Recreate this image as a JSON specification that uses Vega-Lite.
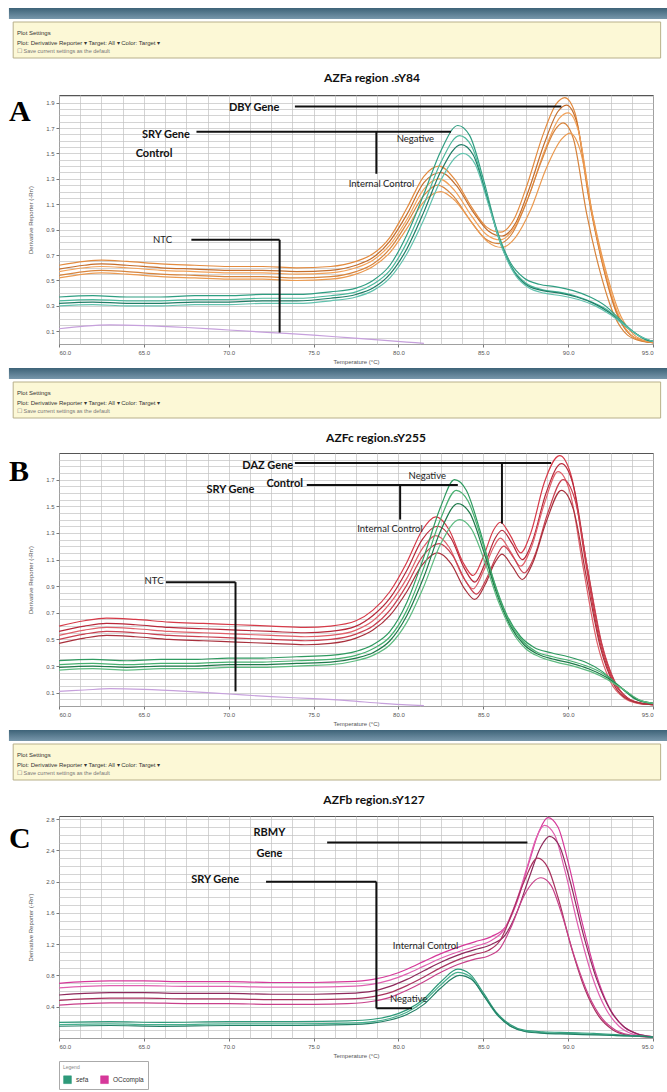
{
  "$schema": "https://vega.github.io/schema/vega-lite/v6.json",
  "background": "white",
  "padding": {"left": 8, "top": 8, "right": 0, "bottom": 0},
  "config": {
    "view": {"stroke": "#555", "strokeWidth": 1},
    "title": {"font": "Lato", "fontSize": 12, "fontWeight": "bold", "color": "#111", "offset": 8},
    "axis": {"labelFont": "Liberation Sans", "titleFont": "Liberation Sans", "labelFontSize": 6, "titleFontSize": 6, "labelColor": "#555", "titleColor": "#555", "titleFontWeight": "normal", "tickColor": "#777", "tickSize": 3, "labelPadding": 2, "domain": false, "grid": true, "gridColor": "#c2c2c2", "gridWidth": 0.7, "labelOverlap": false},
    "line": {"strokeWidth": 1.2, "interpolate": "monotone"}
  },
  "datasets": {
    "curvesA": [
      {"s":"o1","t":60,"v":0.62},{"s":"o1","t":61.5,"v":0.65},{"s":"o1","t":62.5,"v":0.66},{"s":"o1","t":64,"v":0.65},{"s":"o1","t":66,"v":0.63},{"s":"o1","t":68,"v":0.62},{"s":"o1","t":70,"v":0.61},{"s":"o1","t":72,"v":0.61},{"s":"o1","t":74,"v":0.60},{"s":"o1","t":76,"v":0.61},{"s":"o1","t":77.5,"v":0.65},{"s":"o1","t":78.5,"v":0.71},{"s":"o1","t":79.5,"v":0.84},{"s":"o1","t":80.5,"v":1.07},{"s":"o1","t":81.5,"v":1.32},{"s":"o1","t":82.4,"v":1.40},{"s":"o1","t":83.3,"v":1.30},{"s":"o1","t":84.3,"v":1.08},{"s":"o1","t":85.2,"v":0.92},{"s":"o1","t":86,"v":0.88},{"s":"o1","t":86.8,"v":0.98},{"s":"o1","t":87.6,"v":1.26},{"s":"o1","t":88.5,"v":1.64},{"s":"o1","t":89.3,"v":1.89},{"s":"o1","t":89.8,"v":1.94},{"s":"o1","t":90.4,"v":1.82},{"s":"o1","t":91.2,"v":1.16},{"s":"o1","t":92,"v":0.64},{"s":"o1","t":92.8,"v":0.26},{"s":"o1","t":93.6,"v":0.08},{"s":"o1","t":94.5,"v":0.02},{"s":"o1","t":95,"v":0.01},
      {"s":"o2","t":60,"v":0.59},{"s":"o2","t":61.5,"v":0.62},{"s":"o2","t":62.5,"v":0.63},{"s":"o2","t":64,"v":0.62},{"s":"o2","t":66,"v":0.60},{"s":"o2","t":68,"v":0.59},{"s":"o2","t":70,"v":0.58},{"s":"o2","t":72,"v":0.58},{"s":"o2","t":74,"v":0.57},{"s":"o2","t":76,"v":0.58},{"s":"o2","t":77.5,"v":0.62},{"s":"o2","t":78.5,"v":0.68},{"s":"o2","t":79.5,"v":0.81},{"s":"o2","t":80.5,"v":1.02},{"s":"o2","t":81.5,"v":1.27},{"s":"o2","t":82.5,"v":1.35},{"s":"o2","t":83.4,"v":1.25},{"s":"o2","t":84.4,"v":1.04},{"s":"o2","t":85.3,"v":0.89},{"s":"o2","t":86.1,"v":0.85},{"s":"o2","t":86.9,"v":0.95},{"s":"o2","t":87.7,"v":1.22},{"s":"o2","t":88.6,"v":1.58},{"s":"o2","t":89.4,"v":1.83},{"s":"o2","t":89.9,"v":1.88},{"s":"o2","t":90.5,"v":1.75},{"s":"o2","t":91.3,"v":1.10},{"s":"o2","t":92.1,"v":0.60},{"s":"o2","t":92.9,"v":0.24},{"s":"o2","t":93.7,"v":0.07},{"s":"o2","t":94.6,"v":0.02},{"s":"o2","t":95,"v":0.01},
      {"s":"o3","t":60,"v":0.57},{"s":"o3","t":61.5,"v":0.60},{"s":"o3","t":62.5,"v":0.61},{"s":"o3","t":64,"v":0.60},{"s":"o3","t":66,"v":0.58},{"s":"o3","t":68,"v":0.57},{"s":"o3","t":70,"v":0.56},{"s":"o3","t":72,"v":0.56},{"s":"o3","t":74,"v":0.55},{"s":"o3","t":76,"v":0.56},{"s":"o3","t":77.5,"v":0.60},{"s":"o3","t":78.5,"v":0.66},{"s":"o3","t":79.5,"v":0.78},{"s":"o3","t":80.5,"v":0.98},{"s":"o3","t":81.5,"v":1.22},{"s":"o3","t":82.4,"v":1.30},{"s":"o3","t":83.3,"v":1.21},{"s":"o3","t":84.3,"v":1.01},{"s":"o3","t":85.2,"v":0.86},{"s":"o3","t":86,"v":0.82},{"s":"o3","t":86.8,"v":0.91},{"s":"o3","t":87.7,"v":1.17},{"s":"o3","t":88.6,"v":1.52},{"s":"o3","t":89.5,"v":1.78},{"s":"o3","t":90,"v":1.82},{"s":"o3","t":90.6,"v":1.68},{"s":"o3","t":91.4,"v":1.04},{"s":"o3","t":92.2,"v":0.56},{"s":"o3","t":93,"v":0.22},{"s":"o3","t":93.8,"v":0.06},{"s":"o3","t":94.6,"v":0.02},{"s":"o3","t":95,"v":0.01},
      {"s":"o4","t":60,"v":0.54},{"s":"o4","t":61.5,"v":0.57},{"s":"o4","t":62.5,"v":0.58},{"s":"o4","t":64,"v":0.57},{"s":"o4","t":66,"v":0.55},{"s":"o4","t":68,"v":0.54},{"s":"o4","t":70,"v":0.53},{"s":"o4","t":72,"v":0.53},{"s":"o4","t":74,"v":0.52},{"s":"o4","t":76,"v":0.53},{"s":"o4","t":77.5,"v":0.57},{"s":"o4","t":78.5,"v":0.63},{"s":"o4","t":79.5,"v":0.75},{"s":"o4","t":80.5,"v":0.95},{"s":"o4","t":81.5,"v":1.17},{"s":"o4","t":82.3,"v":1.25},{"s":"o4","t":83.2,"v":1.17},{"s":"o4","t":84.2,"v":0.98},{"s":"o4","t":85.1,"v":0.83},{"s":"o4","t":85.9,"v":0.79},{"s":"o4","t":86.7,"v":0.87},{"s":"o4","t":87.5,"v":1.10},{"s":"o4","t":88.4,"v":1.43},{"s":"o4","t":89.2,"v":1.68},{"s":"o4","t":89.7,"v":1.74},{"s":"o4","t":90.3,"v":1.62},{"s":"o4","t":91.1,"v":1.02},{"s":"o4","t":91.9,"v":0.56},{"s":"o4","t":92.7,"v":0.23},{"s":"o4","t":93.5,"v":0.07},{"s":"o4","t":94.4,"v":0.02},{"s":"o4","t":95,"v":0.01},
      {"s":"o5","t":60,"v":0.52},{"s":"o5","t":61.5,"v":0.55},{"s":"o5","t":62.5,"v":0.56},{"s":"o5","t":64,"v":0.55},{"s":"o5","t":66,"v":0.53},{"s":"o5","t":68,"v":0.52},{"s":"o5","t":70,"v":0.51},{"s":"o5","t":72,"v":0.51},{"s":"o5","t":74,"v":0.50},{"s":"o5","t":76,"v":0.51},{"s":"o5","t":77.5,"v":0.55},{"s":"o5","t":78.5,"v":0.61},{"s":"o5","t":79.5,"v":0.72},{"s":"o5","t":80.5,"v":0.91},{"s":"o5","t":81.5,"v":1.12},{"s":"o5","t":82.5,"v":1.20},{"s":"o5","t":83.4,"v":1.12},{"s":"o5","t":84.4,"v":0.94},{"s":"o5","t":85.3,"v":0.80},{"s":"o5","t":86.1,"v":0.76},{"s":"o5","t":86.9,"v":0.84},{"s":"o5","t":87.8,"v":1.06},{"s":"o5","t":88.7,"v":1.38},{"s":"o5","t":89.6,"v":1.61},{"s":"o5","t":90.1,"v":1.66},{"s":"o5","t":90.7,"v":1.53},{"s":"o5","t":91.5,"v":0.98},{"s":"o5","t":92.3,"v":0.54},{"s":"o5","t":93.1,"v":0.22},{"s":"o5","t":93.9,"v":0.07},{"s":"o5","t":94.7,"v":0.02},{"s":"o5","t":95,"v":0.01},
      {"s":"g1","t":60,"v":0.37},{"s":"g1","t":62,"v":0.38},{"s":"g1","t":64,"v":0.37},{"s":"g1","t":66,"v":0.37},{"s":"g1","t":68,"v":0.38},{"s":"g1","t":70,"v":0.38},{"s":"g1","t":72,"v":0.39},{"s":"g1","t":74,"v":0.39},{"s":"g1","t":76,"v":0.41},{"s":"g1","t":77.5,"v":0.44},{"s":"g1","t":78.5,"v":0.50},{"s":"g1","t":79.5,"v":0.62},{"s":"g1","t":80.5,"v":0.86},{"s":"g1","t":81.5,"v":1.18},{"s":"g1","t":82.5,"v":1.52},{"s":"g1","t":83.5,"v":1.72},{"s":"g1","t":84.2,"v":1.64},{"s":"g1","t":85,"v":1.30},{"s":"g1","t":85.8,"v":0.90},{"s":"g1","t":86.6,"v":0.64},{"s":"g1","t":87.4,"v":0.52},{"s":"g1","t":88.3,"v":0.47},{"s":"g1","t":89.3,"v":0.45},{"s":"g1","t":90.3,"v":0.42},{"s":"g1","t":91.3,"v":0.37},{"s":"g1","t":92.2,"v":0.30},{"s":"g1","t":93,"v":0.20},{"s":"g1","t":93.8,"v":0.10},{"s":"g1","t":94.5,"v":0.04},{"s":"g1","t":95,"v":0.02},
      {"s":"g2","t":60,"v":0.34},{"s":"g2","t":62,"v":0.35},{"s":"g2","t":64,"v":0.34},{"s":"g2","t":66,"v":0.34},{"s":"g2","t":68,"v":0.35},{"s":"g2","t":70,"v":0.35},{"s":"g2","t":72,"v":0.36},{"s":"g2","t":74,"v":0.36},{"s":"g2","t":76,"v":0.38},{"s":"g2","t":77.5,"v":0.41},{"s":"g2","t":78.5,"v":0.47},{"s":"g2","t":79.5,"v":0.58},{"s":"g2","t":80.5,"v":0.80},{"s":"g2","t":81.5,"v":1.10},{"s":"g2","t":82.5,"v":1.43},{"s":"g2","t":83.6,"v":1.64},{"s":"g2","t":84.3,"v":1.56},{"s":"g2","t":85.1,"v":1.22},{"s":"g2","t":85.9,"v":0.84},{"s":"g2","t":86.7,"v":0.60},{"s":"g2","t":87.5,"v":0.48},{"s":"g2","t":88.4,"v":0.43},{"s":"g2","t":89.4,"v":0.41},{"s":"g2","t":90.4,"v":0.38},{"s":"g2","t":91.4,"v":0.33},{"s":"g2","t":92.3,"v":0.27},{"s":"g2","t":93.1,"v":0.18},{"s":"g2","t":93.9,"v":0.09},{"s":"g2","t":94.6,"v":0.03},{"s":"g2","t":95,"v":0.02},
      {"s":"g3","t":60,"v":0.32},{"s":"g3","t":62,"v":0.33},{"s":"g3","t":64,"v":0.32},{"s":"g3","t":66,"v":0.32},{"s":"g3","t":68,"v":0.33},{"s":"g3","t":70,"v":0.33},{"s":"g3","t":72,"v":0.34},{"s":"g3","t":74,"v":0.34},{"s":"g3","t":76,"v":0.36},{"s":"g3","t":77.5,"v":0.39},{"s":"g3","t":78.5,"v":0.44},{"s":"g3","t":79.5,"v":0.55},{"s":"g3","t":80.5,"v":0.75},{"s":"g3","t":81.5,"v":1.04},{"s":"g3","t":82.5,"v":1.36},{"s":"g3","t":83.7,"v":1.57},{"s":"g3","t":84.4,"v":1.49},{"s":"g3","t":85.2,"v":1.16},{"s":"g3","t":86,"v":0.80},{"s":"g3","t":86.8,"v":0.57},{"s":"g3","t":87.6,"v":0.46},{"s":"g3","t":88.5,"v":0.42},{"s":"g3","t":89.5,"v":0.40},{"s":"g3","t":90.5,"v":0.37},{"s":"g3","t":91.5,"v":0.32},{"s":"g3","t":92.4,"v":0.25},{"s":"g3","t":93.2,"v":0.16},{"s":"g3","t":94,"v":0.08},{"s":"g3","t":94.7,"v":0.03},{"s":"g3","t":95,"v":0.02},
      {"s":"g4","t":60,"v":0.30},{"s":"g4","t":62,"v":0.31},{"s":"g4","t":64,"v":0.30},{"s":"g4","t":66,"v":0.30},{"s":"g4","t":68,"v":0.31},{"s":"g4","t":70,"v":0.31},{"s":"g4","t":72,"v":0.32},{"s":"g4","t":74,"v":0.32},{"s":"g4","t":76,"v":0.34},{"s":"g4","t":77.5,"v":0.37},{"s":"g4","t":78.5,"v":0.42},{"s":"g4","t":79.5,"v":0.52},{"s":"g4","t":80.5,"v":0.71},{"s":"g4","t":81.5,"v":0.98},{"s":"g4","t":82.5,"v":1.29},{"s":"g4","t":83.8,"v":1.50},{"s":"g4","t":84.5,"v":1.42},{"s":"g4","t":85.3,"v":1.10},{"s":"g4","t":86.1,"v":0.76},{"s":"g4","t":86.9,"v":0.54},{"s":"g4","t":87.7,"v":0.44},{"s":"g4","t":88.6,"v":0.40},{"s":"g4","t":89.6,"v":0.38},{"s":"g4","t":90.6,"v":0.35},{"s":"g4","t":91.6,"v":0.30},{"s":"g4","t":92.5,"v":0.23},{"s":"g4","t":93.3,"v":0.15},{"s":"g4","t":94.1,"v":0.07},{"s":"g4","t":94.8,"v":0.03},{"s":"g4","t":95,"v":0.02},
      {"s":"n","t":60,"v":0.12},{"s":"n","t":61.5,"v":0.14},{"s":"n","t":63,"v":0.15},{"s":"n","t":65,"v":0.145},{"s":"n","t":67.5,"v":0.13},{"s":"n","t":70,"v":0.11},{"s":"n","t":72.5,"v":0.09},{"s":"n","t":75,"v":0.07},{"s":"n","t":77,"v":0.05},{"s":"n","t":79,"v":0.03},{"s":"n","t":80.5,"v":0.015},{"s":"n","t":81.5,"v":0.005}
    ],
    "rulesA": [
      {"t":73.9,"v":1.87,"t2":89.6,"v2":1.87},
      {"t":68.1,"v":1.67,"t2":83.1,"v2":1.67},
      {"t":78.7,"v":1.67,"t2":78.7,"v2":1.34},
      {"t":67.8,"v":0.82,"t2":73.0,"v2":0.82},
      {"t":73.0,"v":0.82,"t2":73.0,"v2":0.09}
    ],
    "boldA": [
      {"t":71.5,"v":1.86,"label":"DBY Gene"},
      {"t":66.3,"v":1.645,"label":"SRY Gene"},
      {"t":65.6,"v":1.495,"label":"Control"}
    ],
    "normA": [
      {"t":81.0,"v":1.61,"label":"Negative"},
      {"t":79.0,"v":1.26,"label":"Internal Control"},
      {"t":66.1,"v":0.82,"label":"NTC"}
    ],
    "letterA": [{"t":57.05,"v":1.83,"label":"A"}],
    "curvesB": [
      {"s":"r1","t":60,"v":0.60},{"s":"r1","t":61.5,"v":0.64},{"s":"r1","t":62.8,"v":0.66},{"s":"r1","t":64.5,"v":0.65},{"s":"r1","t":66.5,"v":0.63},{"s":"r1","t":68.5,"v":0.62},{"s":"r1","t":70.5,"v":0.61},{"s":"r1","t":72.5,"v":0.60},{"s":"r1","t":74.5,"v":0.59},{"s":"r1","t":76,"v":0.60},{"s":"r1","t":77.5,"v":0.64},{"s":"r1","t":78.5,"v":0.72},{"s":"r1","t":79.5,"v":0.86},{"s":"r1","t":80.5,"v":1.08},{"s":"r1","t":81.4,"v":1.32},{"s":"r1","t":82.2,"v":1.42},{"s":"r1","t":83,"v":1.32},{"s":"r1","t":83.8,"v":1.08},{"s":"r1","t":84.4,"v":0.98},{"s":"r1","t":85,"v":1.12},{"s":"r1","t":85.6,"v":1.32},{"s":"r1","t":86,"v":1.38},{"s":"r1","t":86.6,"v":1.28},{"s":"r1","t":87.2,"v":1.15},{"s":"r1","t":87.8,"v":1.30},{"s":"r1","t":88.6,"v":1.68},{"s":"r1","t":89.5,"v":1.88},{"s":"r1","t":90.2,"v":1.72},{"s":"r1","t":91,"v":1.10},{"s":"r1","t":91.8,"v":0.52},{"s":"r1","t":92.6,"v":0.20},{"s":"r1","t":93.4,"v":0.07},{"s":"r1","t":94.2,"v":0.02},{"s":"r1","t":95,"v":0.01},
      {"s":"r2","t":60,"v":0.56},{"s":"r2","t":61.5,"v":0.60},{"s":"r2","t":62.8,"v":0.62},{"s":"r2","t":64.5,"v":0.61},{"s":"r2","t":66.5,"v":0.59},{"s":"r2","t":68.5,"v":0.58},{"s":"r2","t":70.5,"v":0.57},{"s":"r2","t":72.5,"v":0.56},{"s":"r2","t":74.5,"v":0.55},{"s":"r2","t":76,"v":0.56},{"s":"r2","t":77.5,"v":0.60},{"s":"r2","t":78.5,"v":0.68},{"s":"r2","t":79.5,"v":0.81},{"s":"r2","t":80.5,"v":1.02},{"s":"r2","t":81.4,"v":1.25},{"s":"r2","t":82.3,"v":1.35},{"s":"r2","t":83.1,"v":1.26},{"s":"r2","t":83.9,"v":1.03},{"s":"r2","t":84.5,"v":0.93},{"s":"r2","t":85.1,"v":1.07},{"s":"r2","t":85.7,"v":1.26},{"s":"r2","t":86.1,"v":1.32},{"s":"r2","t":86.7,"v":1.22},{"s":"r2","t":87.3,"v":1.10},{"s":"r2","t":87.9,"v":1.24},{"s":"r2","t":88.7,"v":1.60},{"s":"r2","t":89.6,"v":1.82},{"s":"r2","t":90.3,"v":1.66},{"s":"r2","t":91.1,"v":1.06},{"s":"r2","t":91.9,"v":0.50},{"s":"r2","t":92.7,"v":0.19},{"s":"r2","t":93.5,"v":0.06},{"s":"r2","t":94.3,"v":0.02},{"s":"r2","t":95,"v":0.01},
      {"s":"r3","t":60,"v":0.53},{"s":"r3","t":61.5,"v":0.57},{"s":"r3","t":62.8,"v":0.59},{"s":"r3","t":64.5,"v":0.58},{"s":"r3","t":66.5,"v":0.56},{"s":"r3","t":68.5,"v":0.55},{"s":"r3","t":70.5,"v":0.54},{"s":"r3","t":72.5,"v":0.53},{"s":"r3","t":74.5,"v":0.52},{"s":"r3","t":76,"v":0.53},{"s":"r3","t":77.5,"v":0.57},{"s":"r3","t":78.5,"v":0.64},{"s":"r3","t":79.5,"v":0.77},{"s":"r3","t":80.5,"v":0.96},{"s":"r3","t":81.4,"v":1.18},{"s":"r3","t":82.2,"v":1.28},{"s":"r3","t":83,"v":1.19},{"s":"r3","t":83.8,"v":0.97},{"s":"r3","t":84.4,"v":0.88},{"s":"r3","t":85,"v":1.01},{"s":"r3","t":85.6,"v":1.19},{"s":"r3","t":86,"v":1.26},{"s":"r3","t":86.6,"v":1.16},{"s":"r3","t":87.2,"v":1.05},{"s":"r3","t":87.8,"v":1.18},{"s":"r3","t":88.6,"v":1.52},{"s":"r3","t":89.4,"v":1.76},{"s":"r3","t":90.1,"v":1.61},{"s":"r3","t":90.9,"v":1.03},{"s":"r3","t":91.7,"v":0.48},{"s":"r3","t":92.5,"v":0.18},{"s":"r3","t":93.3,"v":0.06},{"s":"r3","t":94.1,"v":0.02},{"s":"r3","t":95,"v":0.01},
      {"s":"r4","t":60,"v":0.50},{"s":"r4","t":61.5,"v":0.54},{"s":"r4","t":62.8,"v":0.56},{"s":"r4","t":64.5,"v":0.55},{"s":"r4","t":66.5,"v":0.53},{"s":"r4","t":68.5,"v":0.52},{"s":"r4","t":70.5,"v":0.51},{"s":"r4","t":72.5,"v":0.50},{"s":"r4","t":74.5,"v":0.49},{"s":"r4","t":76,"v":0.50},{"s":"r4","t":77.5,"v":0.54},{"s":"r4","t":78.5,"v":0.60},{"s":"r4","t":79.5,"v":0.72},{"s":"r4","t":80.5,"v":0.91},{"s":"r4","t":81.4,"v":1.12},{"s":"r4","t":82.4,"v":1.22},{"s":"r4","t":83.2,"v":1.13},{"s":"r4","t":84,"v":0.93},{"s":"r4","t":84.6,"v":0.84},{"s":"r4","t":85.2,"v":0.96},{"s":"r4","t":85.8,"v":1.13},{"s":"r4","t":86.2,"v":1.20},{"s":"r4","t":86.8,"v":1.11},{"s":"r4","t":87.4,"v":1.00},{"s":"r4","t":88,"v":1.12},{"s":"r4","t":88.8,"v":1.45},{"s":"r4","t":89.7,"v":1.70},{"s":"r4","t":90.4,"v":1.55},{"s":"r4","t":91.2,"v":0.99},{"s":"r4","t":92,"v":0.46},{"s":"r4","t":92.8,"v":0.17},{"s":"r4","t":93.6,"v":0.05},{"s":"r4","t":94.4,"v":0.02},{"s":"r4","t":95,"v":0.01},
      {"s":"r5","t":60,"v":0.47},{"s":"r5","t":61.5,"v":0.51},{"s":"r5","t":62.8,"v":0.53},{"s":"r5","t":64.5,"v":0.52},{"s":"r5","t":66.5,"v":0.50},{"s":"r5","t":68.5,"v":0.49},{"s":"r5","t":70.5,"v":0.48},{"s":"r5","t":72.5,"v":0.47},{"s":"r5","t":74.5,"v":0.46},{"s":"r5","t":76,"v":0.47},{"s":"r5","t":77.5,"v":0.51},{"s":"r5","t":78.5,"v":0.57},{"s":"r5","t":79.5,"v":0.68},{"s":"r5","t":80.5,"v":0.86},{"s":"r5","t":81.4,"v":1.06},{"s":"r5","t":82.3,"v":1.15},{"s":"r5","t":83.1,"v":1.07},{"s":"r5","t":83.9,"v":0.88},{"s":"r5","t":84.5,"v":0.80},{"s":"r5","t":85.1,"v":0.91},{"s":"r5","t":85.7,"v":1.08},{"s":"r5","t":86.1,"v":1.14},{"s":"r5","t":86.7,"v":1.05},{"s":"r5","t":87.3,"v":0.95},{"s":"r5","t":87.9,"v":1.07},{"s":"r5","t":88.7,"v":1.38},{"s":"r5","t":89.6,"v":1.62},{"s":"r5","t":90.3,"v":1.48},{"s":"r5","t":91.1,"v":0.95},{"s":"r5","t":91.9,"v":0.44},{"s":"r5","t":92.7,"v":0.16},{"s":"r5","t":93.5,"v":0.05},{"s":"r5","t":94.3,"v":0.02},{"s":"r5","t":95,"v":0.01},
      {"s":"h1","t":60,"v":0.34},{"s":"h1","t":62,"v":0.35},{"s":"h1","t":64,"v":0.34},{"s":"h1","t":66,"v":0.35},{"s":"h1","t":68,"v":0.35},{"s":"h1","t":70,"v":0.36},{"s":"h1","t":72,"v":0.36},{"s":"h1","t":74,"v":0.37},{"s":"h1","t":76,"v":0.38},{"s":"h1","t":77.5,"v":0.41},{"s":"h1","t":78.5,"v":0.46},{"s":"h1","t":79.5,"v":0.56},{"s":"h1","t":80.5,"v":0.78},{"s":"h1","t":81.5,"v":1.12},{"s":"h1","t":82.5,"v":1.50},{"s":"h1","t":83.3,"v":1.70},{"s":"h1","t":84,"v":1.62},{"s":"h1","t":84.8,"v":1.32},{"s":"h1","t":85.6,"v":0.95},{"s":"h1","t":86.4,"v":0.68},{"s":"h1","t":87.2,"v":0.52},{"s":"h1","t":88,"v":0.44},{"s":"h1","t":89,"v":0.40},{"s":"h1","t":90,"v":0.37},{"s":"h1","t":91,"v":0.33},{"s":"h1","t":92,"v":0.26},{"s":"h1","t":93,"v":0.15},{"s":"h1","t":94,"v":0.05},{"s":"h1","t":95,"v":0.02},
      {"s":"h2","t":60,"v":0.31},{"s":"h2","t":62,"v":0.32},{"s":"h2","t":64,"v":0.31},{"s":"h2","t":66,"v":0.32},{"s":"h2","t":68,"v":0.32},{"s":"h2","t":70,"v":0.33},{"s":"h2","t":72,"v":0.33},{"s":"h2","t":74,"v":0.34},{"s":"h2","t":76,"v":0.35},{"s":"h2","t":77.5,"v":0.38},{"s":"h2","t":78.5,"v":0.43},{"s":"h2","t":79.5,"v":0.52},{"s":"h2","t":80.5,"v":0.72},{"s":"h2","t":81.5,"v":1.04},{"s":"h2","t":82.5,"v":1.41},{"s":"h2","t":83.4,"v":1.62},{"s":"h2","t":84.1,"v":1.54},{"s":"h2","t":84.9,"v":1.25},{"s":"h2","t":85.7,"v":0.90},{"s":"h2","t":86.5,"v":0.64},{"s":"h2","t":87.3,"v":0.49},{"s":"h2","t":88.1,"v":0.41},{"s":"h2","t":89.1,"v":0.37},{"s":"h2","t":90.1,"v":0.34},{"s":"h2","t":91.1,"v":0.30},{"s":"h2","t":92.1,"v":0.24},{"s":"h2","t":93.1,"v":0.14},{"s":"h2","t":94.1,"v":0.05},{"s":"h2","t":95,"v":0.02},
      {"s":"h3","t":60,"v":0.29},{"s":"h3","t":62,"v":0.30},{"s":"h3","t":64,"v":0.29},{"s":"h3","t":66,"v":0.30},{"s":"h3","t":68,"v":0.30},{"s":"h3","t":70,"v":0.31},{"s":"h3","t":72,"v":0.31},{"s":"h3","t":74,"v":0.32},{"s":"h3","t":76,"v":0.33},{"s":"h3","t":77.5,"v":0.36},{"s":"h3","t":78.5,"v":0.40},{"s":"h3","t":79.5,"v":0.49},{"s":"h3","t":80.5,"v":0.68},{"s":"h3","t":81.5,"v":0.97},{"s":"h3","t":82.5,"v":1.32},{"s":"h3","t":83.5,"v":1.52},{"s":"h3","t":84.2,"v":1.45},{"s":"h3","t":85,"v":1.17},{"s":"h3","t":85.8,"v":0.84},{"s":"h3","t":86.6,"v":0.60},{"s":"h3","t":87.4,"v":0.46},{"s":"h3","t":88.2,"v":0.39},{"s":"h3","t":89.2,"v":0.35},{"s":"h3","t":90.2,"v":0.32},{"s":"h3","t":91.2,"v":0.28},{"s":"h3","t":92.2,"v":0.22},{"s":"h3","t":93.2,"v":0.13},{"s":"h3","t":94.2,"v":0.04},{"s":"h3","t":95,"v":0.02},
      {"s":"h4","t":60,"v":0.27},{"s":"h4","t":62,"v":0.28},{"s":"h4","t":64,"v":0.27},{"s":"h4","t":66,"v":0.28},{"s":"h4","t":68,"v":0.28},{"s":"h4","t":70,"v":0.29},{"s":"h4","t":72,"v":0.29},{"s":"h4","t":74,"v":0.30},{"s":"h4","t":76,"v":0.31},{"s":"h4","t":77.5,"v":0.34},{"s":"h4","t":78.5,"v":0.38},{"s":"h4","t":79.5,"v":0.46},{"s":"h4","t":80.5,"v":0.63},{"s":"h4","t":81.5,"v":0.90},{"s":"h4","t":82.5,"v":1.22},{"s":"h4","t":83.6,"v":1.40},{"s":"h4","t":84.3,"v":1.33},{"s":"h4","t":85.1,"v":1.08},{"s":"h4","t":85.9,"v":0.78},{"s":"h4","t":86.7,"v":0.56},{"s":"h4","t":87.5,"v":0.43},{"s":"h4","t":88.3,"v":0.37},{"s":"h4","t":89.3,"v":0.33},{"s":"h4","t":90.3,"v":0.30},{"s":"h4","t":91.3,"v":0.26},{"s":"h4","t":92.3,"v":0.20},{"s":"h4","t":93.3,"v":0.12},{"s":"h4","t":94.3,"v":0.04},{"s":"h4","t":95,"v":0.02},
      {"s":"m","t":60,"v":0.11},{"s":"m","t":61.5,"v":0.12},{"s":"m","t":63,"v":0.13},{"s":"m","t":65,"v":0.125},{"s":"m","t":67.5,"v":0.11},{"s":"m","t":70,"v":0.09},{"s":"m","t":72.5,"v":0.07},{"s":"m","t":75,"v":0.055},{"s":"m","t":77,"v":0.04},{"s":"m","t":79,"v":0.02},{"s":"m","t":80.5,"v":0.008},{"s":"m","t":81.5,"v":0.003}
    ],
    "rulesB": [
      {"t":73.9,"v":1.825,"t2":89.0,"v2":1.825},
      {"t":86.1,"v":1.825,"t2":86.1,"v2":1.37},
      {"t":74.6,"v":1.66,"t2":83.5,"v2":1.66},
      {"t":80.1,"v":1.66,"t2":80.1,"v2":1.40},
      {"t":66.3,"v":0.93,"t2":70.4,"v2":0.93},
      {"t":70.4,"v":0.93,"t2":70.4,"v2":0.11}
    ],
    "boldB": [
      {"t":72.3,"v":1.80,"label":"DAZ Gene"},
      {"t":70.1,"v":1.62,"label":"SRY Gene"},
      {"t":73.3,"v":1.67,"label":"Control"}
    ],
    "normB": [
      {"t":81.7,"v":1.73,"label":"Negative"},
      {"t":79.5,"v":1.33,"label":"Internal Control"},
      {"t":65.6,"v":0.94,"label":"NTC"}
    ],
    "letterB": [{"t":57.05,"v":1.76,"label":"B"}],
    "curvesC": [
      {"s":"p1","t":60,"v":0.70},{"s":"p1","t":61.5,"v":0.72},{"s":"p1","t":63,"v":0.73},{"s":"p1","t":65,"v":0.73},{"s":"p1","t":67.5,"v":0.72},{"s":"p1","t":70,"v":0.72},{"s":"p1","t":72.5,"v":0.71},{"s":"p1","t":75,"v":0.71},{"s":"p1","t":77,"v":0.72},{"s":"p1","t":78.5,"v":0.75},{"s":"p1","t":79.5,"v":0.80},{"s":"p1","t":80.5,"v":0.88},{"s":"p1","t":81.5,"v":0.98},{"s":"p1","t":82.5,"v":1.08},{"s":"p1","t":83.5,"v":1.16},{"s":"p1","t":84.5,"v":1.23},{"s":"p1","t":85.5,"v":1.30},{"s":"p1","t":86.3,"v":1.42},{"s":"p1","t":87,"v":1.75},{"s":"p1","t":87.7,"v":2.25},{"s":"p1","t":88.3,"v":2.65},{"s":"p1","t":88.8,"v":2.82},{"s":"p1","t":89.4,"v":2.70},{"s":"p1","t":90,"v":2.25},{"s":"p1","t":90.8,"v":1.50},{"s":"p1","t":91.6,"v":0.85},{"s":"p1","t":92.4,"v":0.40},{"s":"p1","t":93.2,"v":0.16},{"s":"p1","t":94,"v":0.06},{"s":"p1","t":94.8,"v":0.02},{"s":"p1","t":95,"v":0.01},
      {"s":"p2","t":60,"v":0.64},{"s":"p2","t":61.5,"v":0.66},{"s":"p2","t":63,"v":0.67},{"s":"p2","t":65,"v":0.67},{"s":"p2","t":67.5,"v":0.66},{"s":"p2","t":70,"v":0.66},{"s":"p2","t":72.5,"v":0.65},{"s":"p2","t":75,"v":0.65},{"s":"p2","t":77,"v":0.66},{"s":"p2","t":78.5,"v":0.69},{"s":"p2","t":79.5,"v":0.74},{"s":"p2","t":80.5,"v":0.82},{"s":"p2","t":81.5,"v":0.92},{"s":"p2","t":82.5,"v":1.02},{"s":"p2","t":83.5,"v":1.10},{"s":"p2","t":84.5,"v":1.17},{"s":"p2","t":85.5,"v":1.25},{"s":"p2","t":86.2,"v":1.38},{"s":"p2","t":86.9,"v":1.72},{"s":"p2","t":87.6,"v":2.20},{"s":"p2","t":88.1,"v":2.55},{"s":"p2","t":88.6,"v":2.72},{"s":"p2","t":89.2,"v":2.60},{"s":"p2","t":89.8,"v":2.15},{"s":"p2","t":90.6,"v":1.42},{"s":"p2","t":91.4,"v":0.80},{"s":"p2","t":92.2,"v":0.38},{"s":"p2","t":93,"v":0.15},{"s":"p2","t":93.8,"v":0.05},{"s":"p2","t":94.6,"v":0.02},{"s":"p2","t":95,"v":0.01},
      {"s":"p3","t":60,"v":0.55},{"s":"p3","t":61.5,"v":0.57},{"s":"p3","t":63,"v":0.58},{"s":"p3","t":65,"v":0.58},{"s":"p3","t":67.5,"v":0.57},{"s":"p3","t":70,"v":0.57},{"s":"p3","t":72.5,"v":0.56},{"s":"p3","t":75,"v":0.56},{"s":"p3","t":77,"v":0.57},{"s":"p3","t":78.5,"v":0.60},{"s":"p3","t":79.5,"v":0.66},{"s":"p3","t":80.5,"v":0.75},{"s":"p3","t":81.5,"v":0.86},{"s":"p3","t":82.5,"v":0.97},{"s":"p3","t":83.5,"v":1.06},{"s":"p3","t":84.5,"v":1.13},{"s":"p3","t":85.5,"v":1.20},{"s":"p3","t":86.3,"v":1.32},{"s":"p3","t":87,"v":1.62},{"s":"p3","t":87.7,"v":2.05},{"s":"p3","t":88.4,"v":2.45},{"s":"p3","t":88.9,"v":2.58},{"s":"p3","t":89.5,"v":2.45},{"s":"p3","t":90.1,"v":2.02},{"s":"p3","t":90.9,"v":1.32},{"s":"p3","t":91.7,"v":0.74},{"s":"p3","t":92.5,"v":0.35},{"s":"p3","t":93.3,"v":0.14},{"s":"p3","t":94.1,"v":0.05},{"s":"p3","t":94.9,"v":0.02},
      {"s":"p4","t":60,"v":0.48},{"s":"p4","t":61.5,"v":0.50},{"s":"p4","t":63,"v":0.51},{"s":"p4","t":65,"v":0.51},{"s":"p4","t":67.5,"v":0.50},{"s":"p4","t":70,"v":0.50},{"s":"p4","t":72.5,"v":0.49},{"s":"p4","t":75,"v":0.49},{"s":"p4","t":77,"v":0.50},{"s":"p4","t":78.5,"v":0.53},{"s":"p4","t":79.5,"v":0.58},{"s":"p4","t":80.5,"v":0.67},{"s":"p4","t":81.5,"v":0.78},{"s":"p4","t":82.5,"v":0.90},{"s":"p4","t":83.5,"v":1.00},{"s":"p4","t":84.5,"v":1.07},{"s":"p4","t":85.3,"v":1.12},{"s":"p4","t":86,"v":1.25},{"s":"p4","t":86.7,"v":1.60},{"s":"p4","t":87.4,"v":2.00},{"s":"p4","t":88.2,"v":2.30},{"s":"p4","t":88.8,"v":2.18},{"s":"p4","t":89.4,"v":1.80},{"s":"p4","t":90.2,"v":1.15},{"s":"p4","t":91,"v":0.62},{"s":"p4","t":91.8,"v":0.28},{"s":"p4","t":92.6,"v":0.11},{"s":"p4","t":93.4,"v":0.04},{"s":"p4","t":94.2,"v":0.02},{"s":"p4","t":95,"v":0.01},
      {"s":"p5","t":60,"v":0.42},{"s":"p5","t":61.5,"v":0.44},{"s":"p5","t":63,"v":0.45},{"s":"p5","t":65,"v":0.45},{"s":"p5","t":67.5,"v":0.44},{"s":"p5","t":70,"v":0.44},{"s":"p5","t":72.5,"v":0.43},{"s":"p5","t":75,"v":0.43},{"s":"p5","t":77,"v":0.44},{"s":"p5","t":78.5,"v":0.47},{"s":"p5","t":79.5,"v":0.52},{"s":"p5","t":80.5,"v":0.61},{"s":"p5","t":81.5,"v":0.72},{"s":"p5","t":82.5,"v":0.84},{"s":"p5","t":83.5,"v":0.94},{"s":"p5","t":84.5,"v":1.01},{"s":"p5","t":85.3,"v":1.05},{"s":"p5","t":86,"v":1.15},{"s":"p5","t":86.7,"v":1.45},{"s":"p5","t":87.4,"v":1.82},{"s":"p5","t":88.4,"v":2.05},{"s":"p5","t":89,"v":1.95},{"s":"p5","t":89.6,"v":1.60},{"s":"p5","t":90.4,"v":1.02},{"s":"p5","t":91.2,"v":0.55},{"s":"p5","t":92,"v":0.25},{"s":"p5","t":92.8,"v":0.10},{"s":"p5","t":93.6,"v":0.04},{"s":"p5","t":94.4,"v":0.02},{"s":"p5","t":95,"v":0.01},
      {"s":"q1","t":60,"v":0.20},{"s":"q1","t":63,"v":0.21},{"s":"q1","t":66,"v":0.20},{"s":"q1","t":70,"v":0.21},{"s":"q1","t":74,"v":0.21},{"s":"q1","t":77,"v":0.22},{"s":"q1","t":78.5,"v":0.24},{"s":"q1","t":79.5,"v":0.28},{"s":"q1","t":80.5,"v":0.36},{"s":"q1","t":81.5,"v":0.50},{"s":"q1","t":82.5,"v":0.72},{"s":"q1","t":83.5,"v":0.88},{"s":"q1","t":84.2,"v":0.82},{"s":"q1","t":85,"v":0.58},{"s":"q1","t":85.8,"v":0.32},{"s":"q1","t":86.6,"v":0.17},{"s":"q1","t":87.4,"v":0.10},{"s":"q1","t":88.5,"v":0.08},{"s":"q1","t":90,"v":0.07},{"s":"q1","t":91.5,"v":0.06},{"s":"q1","t":93,"v":0.04},{"s":"q1","t":94.5,"v":0.02},{"s":"q1","t":95,"v":0.01},
      {"s":"q2","t":60,"v":0.17},{"s":"q2","t":63,"v":0.18},{"s":"q2","t":66,"v":0.17},{"s":"q2","t":70,"v":0.18},{"s":"q2","t":74,"v":0.18},{"s":"q2","t":77,"v":0.19},{"s":"q2","t":78.5,"v":0.21},{"s":"q2","t":79.5,"v":0.25},{"s":"q2","t":80.5,"v":0.33},{"s":"q2","t":81.5,"v":0.47},{"s":"q2","t":82.5,"v":0.68},{"s":"q2","t":83.5,"v":0.84},{"s":"q2","t":84.2,"v":0.79},{"s":"q2","t":85,"v":0.55},{"s":"q2","t":85.8,"v":0.30},{"s":"q2","t":86.6,"v":0.15},{"s":"q2","t":87.4,"v":0.09},{"s":"q2","t":88.5,"v":0.07},{"s":"q2","t":90,"v":0.06},{"s":"q2","t":91.5,"v":0.05},{"s":"q2","t":93,"v":0.03},{"s":"q2","t":94.5,"v":0.02},{"s":"q2","t":95,"v":0.01},
      {"s":"q3","t":60,"v":0.15},{"s":"q3","t":63,"v":0.16},{"s":"q3","t":66,"v":0.15},{"s":"q3","t":70,"v":0.16},{"s":"q3","t":74,"v":0.16},{"s":"q3","t":77,"v":0.17},{"s":"q3","t":78.5,"v":0.19},{"s":"q3","t":79.5,"v":0.23},{"s":"q3","t":80.5,"v":0.30},{"s":"q3","t":81.5,"v":0.43},{"s":"q3","t":82.5,"v":0.64},{"s":"q3","t":83.6,"v":0.80},{"s":"q3","t":84.3,"v":0.75},{"s":"q3","t":85.1,"v":0.52},{"s":"q3","t":85.9,"v":0.28},{"s":"q3","t":86.7,"v":0.14},{"s":"q3","t":87.5,"v":0.08},{"s":"q3","t":88.6,"v":0.06},{"s":"q3","t":90,"v":0.05},{"s":"q3","t":91.5,"v":0.04},{"s":"q3","t":93,"v":0.03},{"s":"q3","t":94.5,"v":0.02},{"s":"q3","t":95,"v":0.01}
    ],
    "rulesC": [
      {"t":75.8,"v":2.5,"t2":87.6,"v2":2.5},
      {"t":72.2,"v":2.0,"t2":78.7,"v2":2.0},
      {"t":78.7,"v":2.0,"t2":78.7,"v2":0.38},
      {"t":78.7,"v":0.38,"t2":80.8,"v2":0.38}
    ],
    "boldC": [
      {"t":72.4,"v":2.62,"label":"RBMY"},
      {"t":72.4,"v":2.36,"label":"Gene"},
      {"t":69.2,"v":2.02,"label":"SRY Gene"}
    ],
    "normC": [
      {"t":81.6,"v":1.18,"label":"Internal Control"},
      {"t":80.6,"v":0.5,"label":"Negative"}
    ],
    "letterC": [{"t":57.05,"v":2.55,"label":"C"}]
  },
  "resolve": {"scale": {"color": "independent"}},
  "concat": [
    {
      "resolve": {"scale": {"color": "independent"}},
      "concat": [
        {"concat": [
          {"width": 594, "height": 11, "data": {"values": [{}]}, "view": {"stroke": null},
           "mark": {"type": "rect", "color": {"gradient": "linear", "x1": 0, "y1": 0, "x2": 0, "y2": 1, "stops": [{"offset": 0, "color": "#3e6378"}, {"offset": 1, "color": "#7897ab"}]}},
           "encoding": {"x": {"datum": 57.05, "type": "quantitative", "scale": {"domain": [60, 95], "nice": false, "zero": false}, "axis": null}, "x2": {"datum": 95.95}}},
          {"width": 594, "height": 36, "data": {"values": [{}]}, "view": {"stroke": null},
           "mark": {"type": "rect", "fill": "#fcf8d6", "stroke": "#b8b08a", "strokeWidth": 1},
           "encoding": {"x": {"datum": 57.3, "type": "quantitative", "scale": {"domain": [60, 95], "nice": false, "zero": false}, "axis": null}, "x2": {"datum": 95.45}},
           "title": {"text": ["Plot Settings", "Plot: Derivative Reporter ▾      Target: All ▾      Color: Target ▾"], "subtitle": "☐  Save current settings as the default", "anchor": "start", "frame": "group", "dx": -42, "offset": -33, "font": "Liberation Sans", "fontSize": 6, "fontWeight": "normal", "color": "#333", "lineHeight": 10, "subtitleFont": "Liberation Sans", "subtitleFontSize": 5.5, "subtitleColor": "#777", "subtitlePadding": 3}}
        ], "columns": 1, "align": "none", "spacing": 2},
        {
          "width": 594, "height": 249,
          "title": {"text": "AZFa region .sY84", "frame": "group", "dx": 16},
          "encoding": {
            "x": {"field": "t", "type": "quantitative", "title": "Temperature (°C)", "scale": {"domain": [60, 95], "nice": false, "zero": false},
                  "axis": {"values": [60,61.25,62.5,63.75,65,66.25,67.5,68.75,70,71.25,72.5,73.75,75,76.25,77.5,78.75,80,81.25,82.5,83.75,85,86.25,87.5,88.75,90,91.25,92.5,93.75,95], "labelExpr": "datum.value % 5 == 0 ? format(datum.value, '.1f') : ''", "tickOpacity": {"condition": {"test": "datum.value % 5 == 0", "value": 1}, "value": 0}, "titlePadding": 3}},
            "y": {"field": "v", "type": "quantitative", "title": "Derivative Reporter (-Rn')", "scale": {"domain": [0, 1.96], "nice": false},
                  "axis": {"values": [0,0.05,0.1,0.15,0.2,0.25,0.3,0.35,0.4,0.45,0.5,0.55,0.6,0.65,0.7,0.75,0.8,0.85,0.9,0.95,1,1.05,1.1,1.15,1.2,1.25,1.3,1.35,1.4,1.45,1.5,1.55,1.6,1.65,1.7,1.75,1.8,1.85,1.9,1.95], "labelExpr": "round(datum.value*100) % 20 == 10 ? format(datum.value, '.1f') : ''", "tickOpacity": {"condition": {"test": "round(datum.value*100) % 20 == 10", "value": 1}, "value": 0}, "titlePadding": 12}}
          },
          "layer": [
            {"data": {"name": "curvesA"}, "mark": {"type": "line", "interpolate": "monotone"},
             "encoding": {"color": {"field": "s", "type": "nominal", "legend": null, "scale": {"domain": ["o1","o2","o3","o4","o5","g1","g2","g3","g4","n"], "range": ["#e38b3f","#c56e2c","#f2a25a","#d8843c","#eb9a50","#2f9e82","#4cb89c","#1f7d66","#62c2ae","#c6a0dc"]}}}},
            {"data": {"name": "rulesA"}, "mark": {"type": "rule", "color": "#111", "strokeWidth": 2}, "encoding": {"x2": {"field": "t2"}, "y2": {"field": "v2"}}},
            {"data": {"name": "boldA"}, "mark": {"type": "text", "font": "Lato", "fontWeight": "bold", "fontSize": 11, "color": "#111"}, "encoding": {"text": {"field": "label"}}},
            {"data": {"name": "normA"}, "mark": {"type": "text", "font": "Lato", "fontSize": 9.5, "color": "#222"}, "encoding": {"text": {"field": "label"}}},
            {"data": {"name": "letterA"}, "mark": {"type": "text", "font": "Liberation Serif", "fontWeight": "bold", "fontSize": 30, "align": "left", "baseline": "middle", "color": "#000"}, "encoding": {"text": {"field": "label"}}}
          ]
        }
      ],
      "columns": 1, "align": "none", "spacing": 12
    },
    {
      "resolve": {"scale": {"color": "independent"}},
      "concat": [
        {"concat": [
          {"width": 594, "height": 11, "data": {"values": [{}]}, "view": {"stroke": null},
           "mark": {"type": "rect", "color": {"gradient": "linear", "x1": 0, "y1": 0, "x2": 0, "y2": 1, "stops": [{"offset": 0, "color": "#3e6378"}, {"offset": 1, "color": "#7897ab"}]}},
           "encoding": {"x": {"datum": 57.05, "type": "quantitative", "scale": {"domain": [60, 95], "nice": false, "zero": false}, "axis": null}, "x2": {"datum": 95.95}}},
          {"width": 594, "height": 36, "data": {"values": [{}]}, "view": {"stroke": null},
           "mark": {"type": "rect", "fill": "#fcf8d6", "stroke": "#b8b08a", "strokeWidth": 1},
           "encoding": {"x": {"datum": 57.3, "type": "quantitative", "scale": {"domain": [60, 95], "nice": false, "zero": false}, "axis": null}, "x2": {"datum": 95.45}},
           "title": {"text": ["Plot Settings", "Plot: Derivative Reporter ▾      Target: All ▾      Color: Target ▾"], "subtitle": "☐  Save current settings as the default", "anchor": "start", "frame": "group", "dx": -42, "offset": -33, "font": "Liberation Sans", "fontSize": 6, "fontWeight": "normal", "color": "#333", "lineHeight": 10, "subtitleFont": "Liberation Sans", "subtitleFontSize": 5.5, "subtitleColor": "#777", "subtitlePadding": 3}}
        ], "columns": 1, "align": "none", "spacing": 2},
        {
          "width": 594, "height": 253,
          "title": {"text": "AZFc region.sY255", "frame": "group", "dx": 20},
          "encoding": {
            "x": {"field": "t", "type": "quantitative", "title": "Temperature (°C)", "scale": {"domain": [60, 95], "nice": false, "zero": false},
                  "axis": {"values": [60,61.25,62.5,63.75,65,66.25,67.5,68.75,70,71.25,72.5,73.75,75,76.25,77.5,78.75,80,81.25,82.5,83.75,85,86.25,87.5,88.75,90,91.25,92.5,93.75,95], "labelExpr": "datum.value % 5 == 0 ? format(datum.value, '.1f') : ''", "tickOpacity": {"condition": {"test": "datum.value % 5 == 0", "value": 1}, "value": 0}, "titlePadding": 3}},
            "y": {"field": "v", "type": "quantitative", "title": "Derivative Reporter (-Rn')", "scale": {"domain": [0, 1.9], "nice": false},
                  "axis": {"values": [0,0.05,0.1,0.15,0.2,0.25,0.3,0.35,0.4,0.45,0.5,0.55,0.6,0.65,0.7,0.75,0.8,0.85,0.9,0.95,1,1.05,1.1,1.15,1.2,1.25,1.3,1.35,1.4,1.45,1.5,1.55,1.6,1.65,1.7,1.75,1.8,1.85], "labelExpr": "round(datum.value*100) % 20 == 10 ? format(datum.value, '.1f') : ''", "tickOpacity": {"condition": {"test": "round(datum.value*100) % 20 == 10", "value": 1}, "value": 0}, "titlePadding": 12}}
          },
          "layer": [
            {"data": {"name": "curvesB"}, "mark": {"type": "line", "interpolate": "monotone"},
             "encoding": {"color": {"field": "s", "type": "nominal", "legend": null, "scale": {"domain": ["r1","r2","r3","r4","r5","h1","h2","h3","h4","m"], "range": ["#d63a48","#b8283a","#e0606a","#c94050","#a8303c","#2f9a60","#47b070","#1e7a4a","#5dbb80","#c6a0dc"]}}}},
            {"data": {"name": "rulesB"}, "mark": {"type": "rule", "color": "#111", "strokeWidth": 2}, "encoding": {"x2": {"field": "t2"}, "y2": {"field": "v2"}}},
            {"data": {"name": "boldB"}, "mark": {"type": "text", "font": "Lato", "fontWeight": "bold", "fontSize": 11, "color": "#111"}, "encoding": {"text": {"field": "label"}}},
            {"data": {"name": "normB"}, "mark": {"type": "text", "font": "Lato", "fontSize": 9.5, "color": "#222"}, "encoding": {"text": {"field": "label"}}},
            {"data": {"name": "letterB"}, "mark": {"type": "text", "font": "Liberation Serif", "fontWeight": "bold", "fontSize": 30, "align": "left", "baseline": "middle", "color": "#000"}, "encoding": {"text": {"field": "label"}}}
          ]
        }
      ],
      "columns": 1, "align": "none", "spacing": 12
    },
    {
      "resolve": {"scale": {"color": "independent"}},
      "concat": [
        {"concat": [
          {"width": 594, "height": 11, "data": {"values": [{}]}, "view": {"stroke": null},
           "mark": {"type": "rect", "color": {"gradient": "linear", "x1": 0, "y1": 0, "x2": 0, "y2": 1, "stops": [{"offset": 0, "color": "#3e6378"}, {"offset": 1, "color": "#7897ab"}]}},
           "encoding": {"x": {"datum": 57.05, "type": "quantitative", "scale": {"domain": [60, 95], "nice": false, "zero": false}, "axis": null}, "x2": {"datum": 95.95}}},
          {"width": 594, "height": 36, "data": {"values": [{}]}, "view": {"stroke": null},
           "mark": {"type": "rect", "fill": "#fcf8d6", "stroke": "#b8b08a", "strokeWidth": 1},
           "encoding": {"x": {"datum": 57.3, "type": "quantitative", "scale": {"domain": [60, 95], "nice": false, "zero": false}, "axis": null}, "x2": {"datum": 95.45}},
           "title": {"text": ["Plot Settings", "Plot: Derivative Reporter ▾      Target: All ▾      Color: Target ▾"], "subtitle": "☐  Save current settings as the default", "anchor": "start", "frame": "group", "dx": -42, "offset": -33, "font": "Liberation Sans", "fontSize": 6, "fontWeight": "normal", "color": "#333", "lineHeight": 10, "subtitleFont": "Liberation Sans", "subtitleFontSize": 5.5, "subtitleColor": "#777", "subtitlePadding": 3}}
        ], "columns": 1, "align": "none", "spacing": 2},
        {
          "width": 594, "height": 222,
          "title": {"text": "AZFb region.sY127", "frame": "group", "dx": 18},
          "encoding": {
            "x": {"field": "t", "type": "quantitative", "title": "Temperature (°C)", "scale": {"domain": [60, 95], "nice": false, "zero": false},
                  "axis": {"values": [60,61.25,62.5,63.75,65,66.25,67.5,68.75,70,71.25,72.5,73.75,75,76.25,77.5,78.75,80,81.25,82.5,83.75,85,86.25,87.5,88.75,90,91.25,92.5,93.75,95], "labelExpr": "datum.value % 5 == 0 ? format(datum.value, '.1f') : ''", "tickOpacity": {"condition": {"test": "datum.value % 5 == 0", "value": 1}, "value": 0}, "titlePadding": 3}},
            "y": {"field": "v", "type": "quantitative", "title": "Derivative Reporter (-Rn')", "scale": {"domain": [0, 2.84], "nice": false},
                  "axis": {"values": [0,0.1,0.2,0.3,0.4,0.5,0.6,0.7,0.8,0.9,1,1.1,1.2,1.3,1.4,1.5,1.6,1.7,1.8,1.9,2,2.1,2.2,2.3,2.4,2.5,2.6,2.7,2.8], "labelExpr": "(round(datum.value*10) % 4 == 0 && datum.value > 0) ? format(datum.value, '.1f') : ''", "tickOpacity": {"condition": {"test": "round(datum.value*10) % 4 == 0 && datum.value > 0", "value": 1}, "value": 0}, "titlePadding": 12}}
          },
          "layer": [
            {"data": {"name": "curvesC"}, "transform": [{"filter": "false"}], "mark": {"type": "square", "filled": true, "opacity": 1},
             "encoding": {"color": {"field": "s", "type": "nominal",
               "scale": {"domain": ["q1","q2","q3","p1","p2","p3","p4","p5"], "range": ["#2e9a7a","#45b08e","#238066","#d6389a","#e060b0","#8e2a5c","#a8325f","#c8408a"]},
               "legend": {"values": ["q1","p1"], "labelExpr": "datum.value == 'q1' ? 'sefa' : 'OCcompla'", "orient": "bottom", "direction": "horizontal", "title": "Legend", "titleFontSize": 5, "titleColor": "#888", "titleFontWeight": "normal", "labelFontSize": 6.5, "labelColor": "#333", "symbolType": "square", "symbolSize": 60, "symbolStrokeColor": "#666", "symbolStrokeWidth": 0.6, "strokeColor": "#aaa", "fillColor": "#fff", "padding": 4, "offset": 3}}}},
            {"data": {"name": "curvesC"}, "mark": {"type": "line", "interpolate": "monotone"},
             "encoding": {"color": {"field": "s", "type": "nominal"}}},
            {"data": {"name": "rulesC"}, "mark": {"type": "rule", "color": "#111", "strokeWidth": 2}, "encoding": {"x2": {"field": "t2"}, "y2": {"field": "v2"}}},
            {"data": {"name": "boldC"}, "mark": {"type": "text", "font": "Lato", "fontWeight": "bold", "fontSize": 11, "color": "#111"}, "encoding": {"text": {"field": "label"}}},
            {"data": {"name": "normC"}, "mark": {"type": "text", "font": "Lato", "fontSize": 9.5, "color": "#222"}, "encoding": {"text": {"field": "label"}}},
            {"data": {"name": "letterC"}, "mark": {"type": "text", "font": "Liberation Serif", "fontWeight": "bold", "fontSize": 30, "align": "left", "baseline": "middle", "color": "#000"}, "encoding": {"text": {"field": "label"}}}
          ]
        }
      ],
      "columns": 1, "align": "none", "spacing": 12
    }
  ],
  "columns": 1, "align": "none", "spacing": 3
}
